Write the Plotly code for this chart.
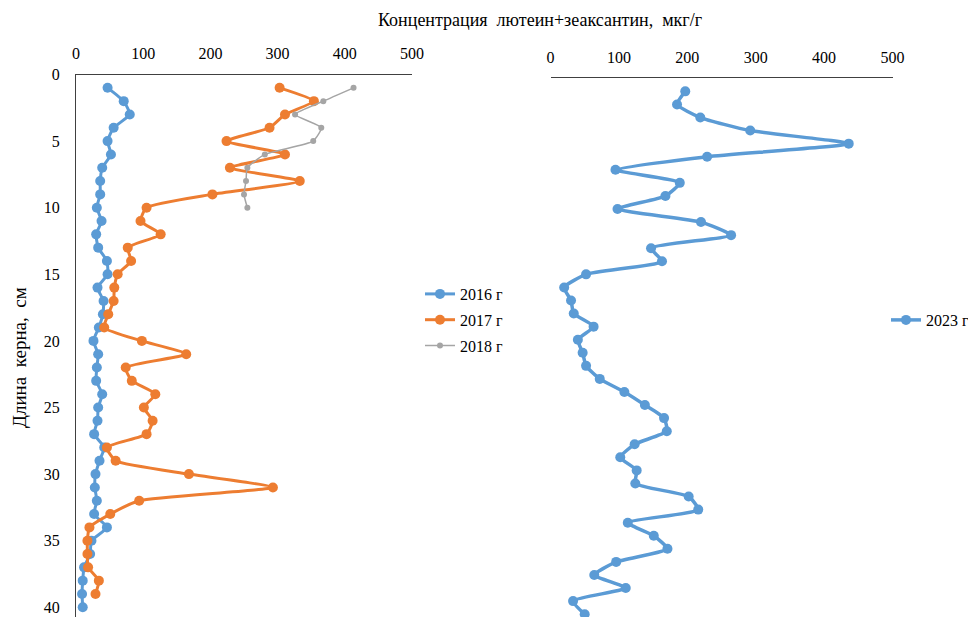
import plotly.graph_objects as go

# ---- data ----
depth_2016 = list(range(1, 41))
conc_2016 = [47, 71, 80, 56, 47, 52, 39, 36, 36, 31, 38, 30, 33, 46, 47, 32, 41, 40, 34, 26,
             33, 31, 30, 39, 33, 32, 27, 42, 35, 29, 28, 31, 27, 46, 23, 21, 12, 10, 9, 10]
depth_2017 = list(range(1, 40))
conc_2017 = [303, 354, 311, 288, 224, 311, 229, 333, 203, 105, 96, 126, 77, 82, 62, 57, 56, 48, 42, 98,
             164, 74, 83, 118, 101, 114, 105, 46, 59, 168, 293, 94, 51, 20, 17, 17, 18, 34, 29]
depth_2018 = list(range(1, 11))
conc_2018 = [413, 368, 326, 365, 353, 281, 255, 253, 250, 255]
depth_2023 = list(range(1, 42))
conc_2023 = [197, 185, 219, 292, 436, 229, 95, 189, 168, 98, 220, 264, 147, 163, 52, 20, 30, 34, 63, 40,
             47, 52, 72, 108, 138, 166, 170, 123, 102, 126, 124, 202, 216, 113, 151, 171, 96, 64, 110, 33, 50]

x_ticks = [0, 100, 200, 300, 400, 500]
y_ticks = [0, 5, 10, 15, 20, 25, 30, 35, 40]

title_text = "Концентрация  лютеин+зеаксантин,  мкг/г"
ytitle_text = "Длина  керна,  см"

BLUE = "#5B9BD5"
ORANGE = "#ED7D31"
GREY = "#A5A5A5"
FONT = "Liberation Serif"

# page body has an 8px default margin; the figure fills the rest of the 976x617 view
OFF = 8
W, H = 976 - OFF, 617 - OFF


def px(x):
    return (x - OFF) / W


def py(y):
    return 1 - (y - OFF) / H


fig = go.Figure()

fig.add_trace(go.Scatter(x=conc_2016, y=depth_2016, name="2016 г", mode="lines+markers",
                         line=dict(color=BLUE, width=3, shape="spline", smoothing=0.5),
                         marker=dict(size=10, color=BLUE),
                         xaxis="x", yaxis="y", legend="legend", legendgroup="a"))
fig.add_trace(go.Scatter(x=conc_2017, y=depth_2017, name="2017 г", mode="lines+markers",
                         line=dict(color=ORANGE, width=3, shape="spline", smoothing=0.5),
                         marker=dict(size=10, color=ORANGE),
                         xaxis="x", yaxis="y", legend="legend", legendgroup="b"))
fig.add_trace(go.Scatter(x=conc_2018, y=depth_2018, name="2018 г", mode="lines+markers",
                         line=dict(color=GREY, width=1.5, shape="spline", smoothing=0.5),
                         marker=dict(size=6, color=GREY),
                         xaxis="x", yaxis="y", legend="legend", legendgroup="c"))
fig.add_trace(go.Scatter(x=conc_2023, y=depth_2023, name="2023 г", mode="lines+markers",
                         line=dict(color=BLUE, width=3.5, shape="spline", smoothing=0.5),
                         marker=dict(size=10, color=BLUE),
                         xaxis="x2", yaxis="y2", legend="legend2"))

# left panel geometry (reference-image pixels)
lx0, lx1 = 76, 412
ly_top = 74.5
l_px_per_cm = 13.32
# right panel geometry
rx0, rx1 = 550.5, 892.5
ry_top = 78.3
r_px_per_cm = 13.07
bottom = 617

axis_common = dict(showgrid=False, zeroline=False, ticks="", automargin=False,
                   tickfont=dict(family=FONT, size=16, color="#000000"))

fig.update_layout(
    width=W, height=H,
    margin=dict(l=0, r=0, t=0, b=0, autoexpand=False),
    paper_bgcolor="white", plot_bgcolor="white",
    font=dict(family=FONT, size=16, color="#000000"),
    xaxis=dict(domain=[px(lx0), px(lx1)], range=[0, 500], side="top", anchor="y",
               tickvals=x_ticks, showline=True, linecolor="#404040", linewidth=1,
               ticklabelstandoff=8, **axis_common),
    yaxis=dict(domain=[0, py(ly_top)], range=[(bottom - ly_top) / l_px_per_cm, 0], anchor="x",
               tickvals=y_ticks, showline=True, linecolor="#404040", linewidth=1,
               ticklabelstandoff=12, **axis_common),
    xaxis2=dict(domain=[px(rx0), px(rx1)], range=[0, 500], side="top", anchor="y2",
                tickvals=x_ticks, showline=True, linecolor="#404040", linewidth=1,
                ticklabelstandoff=8, **axis_common),
    yaxis2=dict(domain=[0, py(ry_top)], range=[(bottom - ry_top) / r_px_per_cm, 0], anchor="x2",
                visible=False, showgrid=False, zeroline=False, automargin=False),
    legend=dict(x=px(420), y=py(320), xanchor="left", yanchor="middle",
                font=dict(family=FONT, size=16, color="#000000"),
                bgcolor="rgba(0,0,0,0)", tracegroupgap=2, traceorder="grouped"),
    legend2=dict(x=px(886), y=py(320), xanchor="left", yanchor="middle",
                 font=dict(family=FONT, size=16, color="#000000"),
                 bgcolor="rgba(0,0,0,0)"),
    showlegend=True,
    annotations=[
        dict(text=title_text, x=px(376), y=py(20), xref="paper", yref="paper",
             showarrow=False, xanchor="left", yanchor="middle",
             font=dict(family=FONT, size=18, color="#000000")),
        dict(text=ytitle_text, x=px(19), y=py(358), xref="paper", yref="paper",
             showarrow=False, xanchor="center", yanchor="middle", textangle=-90,
             font=dict(family=FONT, size=19, color="#000000")),
    ],
)

fig.write_html("out.html")
